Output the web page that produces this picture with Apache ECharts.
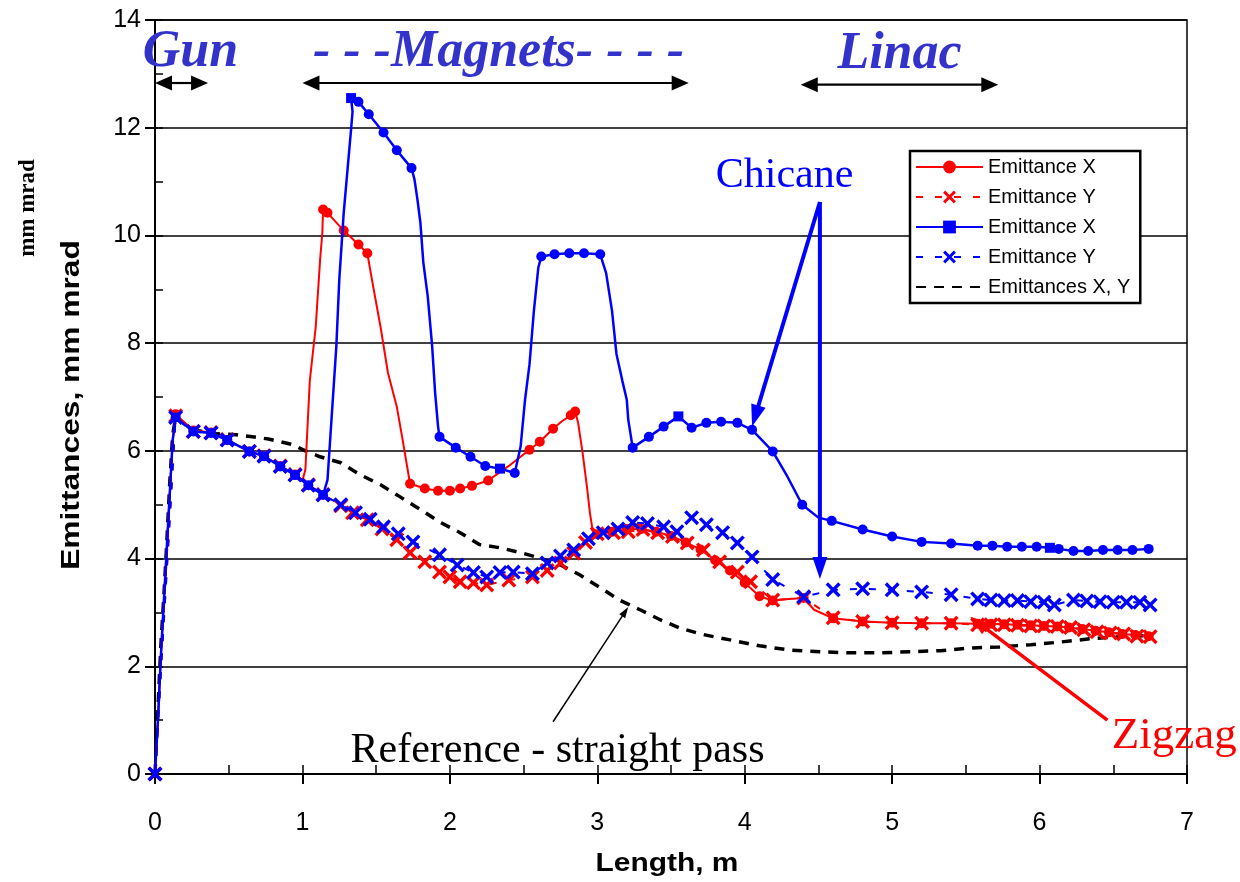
<!DOCTYPE html>
<html>
<head>
<meta charset="utf-8">
<script src="https://cdn.jsdelivr.net/npm/echarts@6/dist/echarts.min.js"></script>
<style>
  html, body { margin: 0; padding: 0; background: #fff; }
  #chart { width: 1240px; height: 882px; }
</style>
</head>
<body>
<div id="chart"></div>
<script>
// Emittance along the beam line: zigzag vs chicane lattice, with the straight-pass reference.
// X-plane points: [length m, emittance mm mrad, sample kind] (0 = traced, 1 = sample, 2 = sample at element edge)
const zigzagX = [
  [0,0,0],[0.02,1.0,0],[0.04,2.2,0],[0.06,3.2,0],[0.08,4.2,0],[0.10,5.2,0],[0.12,6.2,0],
  [0.14,6.68,1],[0.26,6.38,1],[0.38,6.34,1],[0.49,6.20,1],[0.64,5.99,1],[0.74,5.90,1],[0.85,5.72,1],[0.95,5.56,1],[1.00,5.45,0],
  [1.02,5.65,0],[1.05,7.30,0],[1.09,8.30,0],[1.12,9.55,0],[1.135,10.05,0],[1.14,10.48,1],[1.17,10.42,1],[1.28,10.09,1],[1.38,9.83,1],[1.44,9.67,1],
  [1.48,9.05,0],[1.53,8.30,0],[1.58,7.45,0],[1.64,6.82,0],[1.68,6.20,0],[1.73,5.39,1],
  [1.83,5.30,1],[1.92,5.26,1],[2.00,5.26,1],[2.07,5.30,1],[2.15,5.35,1],[2.26,5.45,1],[2.40,5.72,0],
  [2.54,6.02,1],[2.61,6.17,1],[2.70,6.41,1],[2.76,6.55,0],[2.82,6.66,1],[2.85,6.73,1],
  [2.87,6.52,0],[2.90,5.97,0],[2.93,5.33,0],[2.95,4.85,0],[2.97,4.50,0],
  [3.00,4.45,1],[3.10,4.50,1],[3.20,4.55,1],[3.30,4.55,1],[3.40,4.50,1],[3.50,4.42,1],[3.60,4.30,1],[3.70,4.17,1],
  [3.80,3.97,1],[3.90,3.78,1],[4.00,3.55,1],[4.10,3.30,1],[4.19,3.22,1],[4.30,3.25,0],[4.40,3.27,1],[4.47,3.05,0],
  [4.60,2.89,1],[4.80,2.83,1],[5.00,2.81,1],[5.20,2.80,1],[5.40,2.80,1],[5.58,2.79,1],[5.67,2.79,1],[5.76,2.78,1],
  [5.85,2.77,1],[5.94,2.76,1],[6.03,2.75,1],[6.12,2.74,1],[6.20,2.72,1],[6.29,2.69,1],[6.38,2.66,1],[6.47,2.63,1],
  [6.56,2.60,1],[6.65,2.58,1],[6.74,2.56,1]
];

const zigzagY = [
  [0,0],[0.14,6.65],[0.26,6.36],[0.38,6.34],[0.49,6.21],[0.64,5.99],[0.74,5.91],[0.85,5.72],[0.95,5.56],[1.04,5.37],
  [1.14,5.19],[1.26,4.98],[1.34,4.85],[1.44,4.72],[1.54,4.55],[1.64,4.35],[1.73,4.11],[1.83,3.94],[1.93,3.75],[2.00,3.66],
  [2.07,3.57],[2.16,3.55],[2.25,3.51],[2.40,3.60],[2.56,3.66],[2.66,3.78],[2.75,3.92],[2.84,4.10],[2.92,4.30],[3.00,4.46],
  [3.11,4.48],[3.21,4.50],[3.31,4.54],[3.41,4.48],[3.51,4.41],[3.61,4.29],[3.72,4.16],[3.83,3.94],[3.95,3.75],[4.04,3.57],
  [4.19,3.23],[4.40,3.27],[4.60,2.90],[4.80,2.83],[5.00,2.81],[5.20,2.80],[5.40,2.80],[5.58,2.77],[5.67,2.77],[5.76,2.77],
  [5.85,2.76],[5.94,2.75],[6.03,2.75],[6.12,2.74],[6.21,2.72],[6.30,2.68],[6.39,2.64],[6.48,2.62],[6.57,2.60],[6.66,2.56],
  [6.75,2.55]
];

const chicaneX = [
  [0,0,0],[0.02,1.0,0],[0.04,2.2,0],[0.06,3.2,0],[0.08,4.2,0],[0.10,5.2,0],[0.12,6.2,0],
  [0.14,6.62,1],[0.26,6.36,1],[0.38,6.33,1],[0.49,6.20,1],[0.64,5.99,1],[0.74,5.90,1],[0.85,5.71,1],[0.95,5.55,1],[1.04,5.36,1],[1.14,5.18,1],
  [1.17,5.46,0],[1.20,6.70,0],[1.23,7.94,0],[1.25,9.18,0],[1.28,10.42,0],[1.31,11.35,0],[1.33,11.97,0],[1.34,12.30,0],
  [1.33,12.55,2],[1.38,12.48,1],[1.45,12.25,1],[1.55,11.91,1],[1.64,11.58,1],[1.74,11.25,1],
  [1.76,11.04,0],[1.78,10.67,0],[1.80,10.24,0],[1.82,9.50,0],[1.85,8.87,0],[1.88,7.94,0],[1.90,7.08,0],[1.92,6.45,0],
  [1.93,6.26,1],[2.04,6.06,1],[2.14,5.89,1],[2.24,5.72,1],[2.34,5.67,2],[2.44,5.59,1],
  [2.48,6.08,0],[2.51,6.95,0],[2.54,7.60,0],[2.57,8.60,0],[2.60,9.40,0],
  [2.62,9.61,1],[2.71,9.65,1],[2.81,9.67,1],[2.91,9.67,1],[3.02,9.65,1],
  [3.06,9.30,0],[3.10,8.60,0],[3.13,7.80,0],[3.17,7.30,0],[3.20,6.95,0],[3.21,6.58,0],
  [3.24,6.06,1],[3.35,6.26,1],[3.45,6.45,1],[3.55,6.64,2],[3.64,6.43,1],[3.74,6.52,1],[3.84,6.54,1],[3.95,6.52,1],[4.05,6.39,1],
  [4.19,5.99,1],[4.29,5.52,0],[4.39,5.00,1],[4.50,4.76,0],[4.59,4.70,1],[4.80,4.54,1],[5.00,4.41,1],[5.20,4.31,1],[5.40,4.28,1],
  [5.58,4.24,1],[5.68,4.24,1],[5.78,4.22,1],[5.88,4.22,1],[5.98,4.22,1],[6.07,4.20,2],[6.13,4.18,1],[6.23,4.14,1],[6.33,4.14,1],
  [6.43,4.16,1],[6.53,4.16,1],[6.63,4.16,1],[6.74,4.18,1]
];

const chicaneY = [
  [0,0],[0.14,6.62],[0.26,6.36],[0.38,6.33],[0.49,6.20],[0.64,5.99],[0.74,5.90],[0.85,5.71],[0.95,5.55],[1.04,5.36],
  [1.14,5.18],[1.26,5.00],[1.36,4.85],[1.46,4.73],[1.55,4.59],[1.65,4.46],[1.75,4.31],[1.93,4.07],[2.05,3.88],[2.16,3.74],
  [2.25,3.66],[2.34,3.74],[2.43,3.75],[2.56,3.72],[2.66,3.92],[2.75,4.05],[2.84,4.16],[2.94,4.37],[3.04,4.48],[3.14,4.55],
  [3.24,4.67],[3.34,4.65],[3.45,4.59],[3.54,4.50],[3.64,4.76],[3.74,4.63],[3.85,4.48],[3.95,4.29],[4.05,4.03],[4.19,3.61],
  [4.40,3.29],[4.60,3.42],[4.80,3.44],[5.00,3.42],[5.20,3.38],[5.40,3.33],[5.58,3.25],[5.67,3.23],[5.76,3.22],[5.85,3.22],
  [5.94,3.20],[6.03,3.19],[6.10,3.14],[6.23,3.23],[6.32,3.21],[6.41,3.20],[6.50,3.19],[6.59,3.19],[6.68,3.19],[6.75,3.14]
];

// Straight pass (no bends): X and Y coincide
const straightXY = [
  [0,0],[0.02,1.2],[0.04,2.4],[0.06,3.3],[0.08,4.3],[0.10,5.4],[0.12,6.3],[0.14,6.62],[0.25,6.40],[0.40,6.32],
  [0.55,6.30],[0.66,6.26],[0.77,6.22],[0.93,6.12],[1.02,6.00],[1.12,5.89],[1.26,5.78],[1.39,5.56],[1.53,5.37],[1.66,5.15],
  [1.80,4.91],[1.93,4.68],[2.07,4.48],[2.20,4.26],[2.34,4.20],[2.48,4.11],[2.61,4.01],[2.75,3.88],[2.88,3.70],[3.02,3.46],
  [3.15,3.23],[3.29,3.05],[3.43,2.86],[3.56,2.71],[3.70,2.60],[3.90,2.49],[4.10,2.38],[4.31,2.30],[4.51,2.27],[4.72,2.25],
  [4.92,2.25],[5.12,2.27],[5.33,2.29],[5.53,2.34],[5.73,2.36],[5.94,2.40],[6.14,2.45],[6.34,2.51],[6.55,2.55],[6.75,2.57]
];

const legendNames = ['Emittance X|zigzag', 'Emittance Y|zigzag', 'Emittance X|chicane', 'Emittance Y|chicane', 'Emittances X, Y|straight'];
const xTicks = [0, 1, 2, 3, 4, 5, 6, 7];
const yTicks = [0, 2, 4, 6, 8, 10, 12, 14];

const RED = '#ff0000', BLUE = '#0000ff', SCRIPT_BLUE = '#3333cc';
const SANS = '"Liberation Sans", Arial, sans-serif';
const SERIF = '"Liberation Serif", "Times New Roman", serif';
const CROSS = 'path://M0,1.6L1.6,0L5,3.4L8.4,0L10,1.6L6.6,5L10,8.4L8.4,10L5,6.6L1.6,10L0,8.4L3.4,5Z';
const KIND = ['none', 'circle', 'rect'];

function withSamples(pts) {
  return pts.map(p => ({ value: [p[0], p[1]], symbol: KIND[p[2]] }));
}

const chart = echarts.init(document.getElementById('chart'), null, { renderer: 'canvas' });

const axisTitleFont = 'bold 26px ' + SANS;

chart.setOption({
  animation: false,
  backgroundColor: '#fff',
  grid: { left: 155, right: 53, top: 20, bottom: 108, show: true, borderColor: '#000', borderWidth: 1.5 },
  xAxis: [
    {
      type: 'value', min: xTicks[0], max: xTicks[xTicks.length - 1], interval: xTicks[1] - xTicks[0],
      axisLine: { show: true, lineStyle: { color: '#000', width: 2 } },
      axisTick: { show: true, length: 10, lineStyle: { color: '#000', width: 2 } },
      axisLabel: { fontSize: 25, color: '#000', fontFamily: SANS, margin: 37 },
      splitLine: { show: false }
    },
    {
      type: 'value', min: xTicks[0], max: xTicks[xTicks.length - 1], interval: (xTicks[1] - xTicks[0]) / 2, position: 'bottom',
      axisLine: { show: false },
      axisTick: { show: true, inside: true, length: 9, lineStyle: { color: '#000', width: 1.5 } },
      axisLabel: { show: false }, splitLine: { show: false }
    }
  ],
  yAxis: [
    {
      type: 'value', min: yTicks[0], max: yTicks[yTicks.length - 1], interval: yTicks[1] - yTicks[0],
      axisLine: { show: true, lineStyle: { color: '#000', width: 2 } },
      axisTick: { show: true, length: 10, lineStyle: { color: '#000', width: 2 } },
      axisLabel: { fontSize: 25, color: '#000', fontFamily: SANS, margin: 14 },
      splitLine: { show: true, lineStyle: { color: '#000', width: 1.6 } }
    },
    {
      type: 'value', min: yTicks[0], max: yTicks[yTicks.length - 1], interval: (yTicks[1] - yTicks[0]) / 2, position: 'left',
      axisLine: { show: false },
      axisTick: { show: true, inside: true, length: 8, lineStyle: { color: '#000', width: 1.5 } },
      axisLabel: { show: false }, splitLine: { show: false }
    }
  ],
  legend: {
    orient: 'vertical', left: 910, top: 151,
    data: [
      legendNames[0], legendNames[1], legendNames[2], legendNames[3],
      { name: legendNames[4], itemStyle: { opacity: 0 } }
    ],
    formatter: name => name.split('|')[0],
    itemWidth: 67, itemHeight: 16, itemGap: 10,
    padding: [6, 10, 6, 5],
    borderColor: '#000', borderWidth: 2.5, backgroundColor: '#fff',
    selectedMode: false,
    textStyle: { fontSize: 20, color: '#000', fontFamily: SANS }
  },
  series: [
    {
      name: legendNames[4], type: 'line', data: straightXY, symbol: 'none', z: 2,
      lineStyle: { color: '#000', width: 3.5, type: [10, 8] }, itemStyle: { color: '#000' }
    },
    {
      name: legendNames[1], type: 'line', data: zigzagY, symbol: CROSS, symbolSize: 15, symbolKeepAspect: true, z: 3,
      lineStyle: { color: RED, width: 2, type: [7, 12] }, itemStyle: { color: RED }
    },
    {
      name: legendNames[0], type: 'line', data: withSamples(zigzagX), symbol: 'circle', symbolSize: 10, z: 4,
      lineStyle: { color: RED, width: 2 }, itemStyle: { color: RED }
    },
    {
      name: legendNames[3], type: 'line', data: chicaneY, symbol: CROSS, symbolSize: 15, symbolKeepAspect: true, z: 5,
      lineStyle: { color: BLUE, width: 2, type: [7, 12] }, itemStyle: { color: BLUE }
    },
    {
      name: legendNames[2], type: 'line', data: withSamples(chicaneX), symbol: 'rect', symbolSize: 10, z: 6,
      lineStyle: { color: BLUE, width: 2.5 }, itemStyle: { color: BLUE }
    }
  ]
});

// ---- annotations, placed in data coordinates ----
const toPx = p => chart.convertToPixel({ xAxisIndex: 0, yAxisIndex: 0 }, p);

function arrowShapes(a, b, color, width, headLen, headW, both) {
  const p0 = toPx(a), p1 = toPx(b);
  const dx = p1[0] - p0[0], dy = p1[1] - p0[1];
  const len = Math.hypot(dx, dy), ux = dx / len, uy = dy / len, nx = -uy, ny = ux;
  const head = (tip, sx, sy) => ({
    type: 'polygon', silent: true, z: 50,
    shape: { points: [
      tip,
      [tip[0] - sx * headLen + nx * headW / 2, tip[1] - sy * headLen + ny * headW / 2],
      [tip[0] - sx * headLen - nx * headW / 2, tip[1] - sy * headLen - ny * headW / 2]
    ] },
    style: { fill: color }
  });
  const s = both ? [p0[0] + ux * headLen * 0.8, p0[1] + uy * headLen * 0.8] : p0;
  const e = [p1[0] - ux * headLen * 0.8, p1[1] - uy * headLen * 0.8];
  const out = [
    { type: 'line', silent: true, z: 50, shape: { x1: s[0], y1: s[1], x2: e[0], y2: e[1] }, style: { stroke: color, lineWidth: width } },
    head(p1, ux, uy)
  ];
  if (both) out.push(head(p0, -ux, -uy));
  return out;
}

function label(at, text, font, color, align) {
  const p = toPx(at);
  return {
    type: 'text', silent: true, z: 60, x: p[0], y: p[1],
    style: { text, font, fill: color, align: align || 'center', verticalAlign: 'middle',
             textAlign: align || 'center', textVerticalAlign: 'middle' }
  };
}

const scriptFont = 'italic bold 52px ' + SERIF;

const graphics = [].concat(
  label([0.24, 13.4], 'Gun', scriptFont, SCRIPT_BLUE),
  label([2.33, 13.4], '- - -Magnets- - - -', scriptFont, SCRIPT_BLUE),
  label([5.05, 13.35], 'Linac', scriptFont, SCRIPT_BLUE),
  arrowShapes([0, 12.83], [0.36, 12.83], '#000', 2.2, 17, 15, true),
  arrowShapes([1.0, 12.83], [3.62, 12.83], '#000', 2.2, 17, 15, true),
  arrowShapes([4.38, 12.8], [5.72, 12.8], '#000', 2.2, 17, 15, true),

  label([4.27, 11.1], 'Chicane', '42px ' + SERIF, BLUE),
  arrowShapes([4.51, 10.62], [4.05, 6.45], BLUE, 4, 22, 15, false),
  arrowShapes([4.51, 10.62], [4.51, 3.62], BLUE, 4, 22, 15, false),

  label([6.49, 0.7], 'Zigzag', '45px ' + SERIF, RED, 'left'),
  arrowShapes([6.46, 1.0], [5.53, 2.92], RED, 3.5, 20, 14, false),

  label([2.73, 0.43], 'Reference - straight pass', '42px ' + SERIF, '#000'),
  arrowShapes([2.70, 0.97], [3.21, 3.1], '#000', 1.5, 11, 7, false),

  // axis titles
  { type: 'text', silent: true, x: 667, y: 864,
    style: { text: 'Length, m', font: axisTitleFont, fill: '#000', align: 'center', verticalAlign: 'middle', textAlign: 'center', textVerticalAlign: 'middle' },
    scaleX: 1.15 },
  { type: 'text', silent: true, x: 72, y: 405, rotation: Math.PI / 2,
    style: { text: 'Emittances, mm mrad', font: axisTitleFont, fill: '#000', align: 'center', verticalAlign: 'middle', textAlign: 'center', textVerticalAlign: 'middle' },
    scaleX: 1.22 },
  { type: 'text', silent: true, x: 28, y: 208, rotation: Math.PI / 2,
    style: { text: 'mm mrad', font: 'bold 23px ' + SERIF, fill: '#000', align: 'center', verticalAlign: 'middle', textAlign: 'center', textVerticalAlign: 'middle' } }
);

chart.setOption({ graphic: { elements: graphics } });
</script>
</body>
</html>
